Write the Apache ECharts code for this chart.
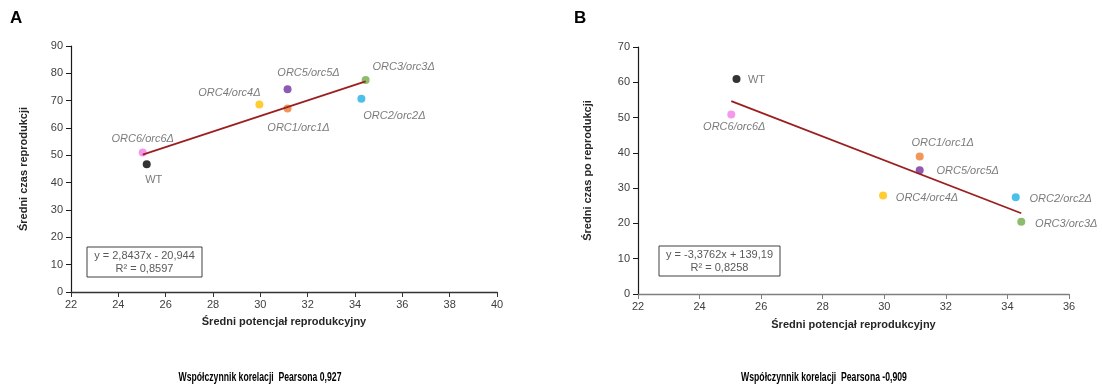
<!DOCTYPE html>
<html>
<head>
<meta charset="utf-8">
<style>
  html, body { margin: 0; padding: 0; background: #fff; }
  #chart { width: 1102px; height: 387px; }
</style>
<script src="https://cdn.jsdelivr.net/npm/echarts@6/dist/echarts.min.js"></script>
</head>
<body>
<div id="chart"></div>
<script>
// Strains and their measured means
const strains = ['WT', 'ORC1/orc1Δ', 'ORC2/orc2Δ', 'ORC3/orc3Δ', 'ORC4/orc4Δ', 'ORC5/orc5Δ', 'ORC6/orc6Δ'];
const reproPotential = [25.2, 31.15, 34.27, 34.45, 29.96, 31.15, 25.03];   // Średni potencjał reprodukcyjny
const reproTime = [46.7, 67.1, 70.7, 77.6, 68.6, 74.2, 51.0];              // Średni czas reprodukcji
const postReproTime = [60.9, 39.0, 27.4, 20.5, 27.9, 35.1, 50.9];          // Średni czas po reprodukcji

// Linear trend fits (slope, intercept, R²) and Pearson coefficients
const fitA = [2.8437, -20.944, 0.8597];
const fitB = [-3.3762, 139.19, 0.8258];
const pearsonA = 0.927;
const pearsonB = -0.909;

// Axis tick ranges
const xTicksA = [22, 40, 2];
const yTicksA = [0, 90, 10];
const xTicksB = [22, 36, 2];
const yTicksB = [0, 70, 10];

// Marker colours per strain
const strainColors = {
  'WT': '#000000',
  'ORC1/orc1Δ': '#ed7d31',
  'ORC2/orc2Δ': '#1fb0e6',
  'ORC3/orc3Δ': '#70ad47',
  'ORC4/orc4Δ': '#ffc000',
  'ORC5/orc5Δ': '#7030a0',
  'ORC6/orc6Δ': '#f27ee8'
};

// Label placement (offset of label centre from marker centre)
const labelOffsetA = {
  'WT': [7, 16],
  'ORC1/orc1Δ': [11, 19],
  'ORC2/orc2Δ': [33, 17],
  'ORC3/orc3Δ': [38, -13],
  'ORC4/orc4Δ': [-30, -12],
  'ORC5/orc5Δ': [21, -16],
  'ORC6/orc6Δ': [0, -14]
};
const labelOffsetB = {
  'WT': [20, 1],
  'ORC1/orc1Δ': [23, -13],
  'ORC2/orc2Δ': [45, 2],
  'ORC3/orc3Δ': [45, 2],
  'ORC4/orc4Δ': [44, 2],
  'ORC5/orc5Δ': [48, 1],
  'ORC6/orc6Δ': [3, 13]
};

const FONT = 'Liberation Sans, Arial, sans-serif';
const comma = v => String(v).replace('.', ',');

function points(ys, offsets) {
  return strains.map((name, i) => ({
    name: name,
    value: [reproPotential[i], ys[i]],
    itemStyle: { color: strainColors[name] },
    label: {
      offset: offsets[name],
      fontStyle: name === 'WT' ? 'normal' : 'italic'
    }
  }));
}

function trend(fit) {
  const xMin = Math.min(...reproPotential);
  const xMax = Math.max(...reproPotential);
  return [[xMin, fit[0] * xMin + fit[1]], [xMax, fit[0] * xMax + fit[1]]];
}

function equation(fit) {
  const sign = fit[1] < 0 ? '-' : '+';
  return 'y = ' + comma(fit[0]) + 'x ' + sign + ' ' + comma(Math.abs(fit[1])) + '\nR² = ' + comma(fit[2]);
}

function xAxis(idx, t, lineColor, gap) {
  return {
    type: 'value', gridIndex: idx, min: t[0], max: t[1], interval: t[2],
    name: 'Średni potencjał reprodukcyjny', nameLocation: 'middle', nameGap: gap,
    nameTextStyle: { fontFamily: FONT, fontSize: 11, fontWeight: 'bold', color: '#262626' },
    axisLine: { lineStyle: { color: lineColor, width: 1.3 } },
    axisTick: { length: 5, lineStyle: { color: lineColor } },
    axisLabel: { fontFamily: FONT, fontSize: 11, color: '#404040', margin: 7 },
    splitLine: { show: false }
  };
}

function yAxis(idx, t, name, gap) {
  return {
    type: 'value', gridIndex: idx, min: t[0], max: t[1], interval: t[2],
    name: name, nameLocation: 'middle', nameRotate: 90, nameGap: gap,
    nameTextStyle: { fontFamily: FONT, fontSize: 11, fontWeight: 'bold', color: '#262626' },
    axisLine: { show: true, lineStyle: { color: '#1a1a1a', width: 1.2 } },
    axisTick: { show: true, length: 5, lineStyle: { color: '#1a1a1a' } },
    axisLabel: { fontFamily: FONT, fontSize: 11, color: '#404040', margin: 8 },
    splitLine: { show: false }
  };
}

const scatterLabel = {
  show: true, position: 'inside', formatter: '{b}',
  fontFamily: FONT, fontSize: 11, color: '#595959', textBorderWidth: 0
};

// Condensed bold caption under each panel
function caption(text, cx) {
  return {
    type: 'text', x: cx, y: 377, scaleX: 0.665, scaleY: 1,
    style: { text: text, x: 0, y: 0, align: 'center', verticalAlign: 'middle',
             font: 'bold 13px ' + FONT, fill: '#000' }
  };
}

const chart = echarts.init(document.getElementById('chart'), null, { renderer: 'canvas' });

chart.setOption({
  animation: false,
  backgroundColor: '#ffffff',
  grid: [
    { left: 71, top: 46, width: 426, height: 246 },
    { left: 638, top: 47, width: 431, height: 247 }
  ],
  xAxis: [
    xAxis(0, xTicksA, '#333333', 24),
    xAxis(1, xTicksB, '#7f7f7f', 25)
  ],
  yAxis: [
    yAxis(0, yTicksA, 'Średni czas reprodukcji', 42),
    yAxis(1, yTicksB, 'Średni czas po reprodukcji', 45)
  ],
  series: [
    {
      type: 'scatter', xAxisIndex: 0, yAxisIndex: 0, symbolSize: 8, z: 2,
      label: scatterLabel, data: points(reproTime, labelOffsetA)
    },
    {
      type: 'line', xAxisIndex: 0, yAxisIndex: 0, symbol: 'none', z: 3,
      lineStyle: { color: '#9c1f1f', width: 1.8 }, data: trend(fitA)
    },
    {
      type: 'scatter', xAxisIndex: 1, yAxisIndex: 1, symbolSize: 8, z: 2,
      label: scatterLabel, data: points(postReproTime, labelOffsetB)
    },
    {
      type: 'line', xAxisIndex: 1, yAxisIndex: 1, symbol: 'none', z: 3,
      lineStyle: { color: '#9c1f1f', width: 1.8 }, data: trend(fitB)
    }
  ],
  graphic: [
    { type: 'text', left: 10, top: 10, style: { text: 'A', font: 'bold 17px ' + FONT, fill: '#000' } },
    { type: 'text', left: 574, top: 10, style: { text: 'B', font: 'bold 17px ' + FONT, fill: '#000' } },
    {
      type: 'rect', shape: { x: 87, y: 247, width: 115, height: 30 },
      style: { fill: '#ffffff', stroke: '#404040', lineWidth: 1 }, z: 10
    },
    {
      type: 'text', z: 11,
      style: { text: equation(fitA), x: 144.5, y: 262.5, align: 'center', verticalAlign: 'middle',
               font: '11px ' + FONT, fill: '#595959', lineHeight: 13 }
    },
    {
      type: 'rect', shape: { x: 659, y: 246, width: 121, height: 30 },
      style: { fill: '#ffffff', stroke: '#404040', lineWidth: 1 }, z: 10
    },
    {
      type: 'text', z: 11,
      style: { text: equation(fitB), x: 719.5, y: 261.5, align: 'center', verticalAlign: 'middle',
               font: '11px ' + FONT, fill: '#595959', lineHeight: 13 }
    },
    caption('Współczynnik korelacji  Pearsona ' + comma(pearsonA), 260),
    caption('Współczynnik korelacji  Pearsona ' + comma(pearsonB), 824)
  ]
});
</script>
</body>
</html>
